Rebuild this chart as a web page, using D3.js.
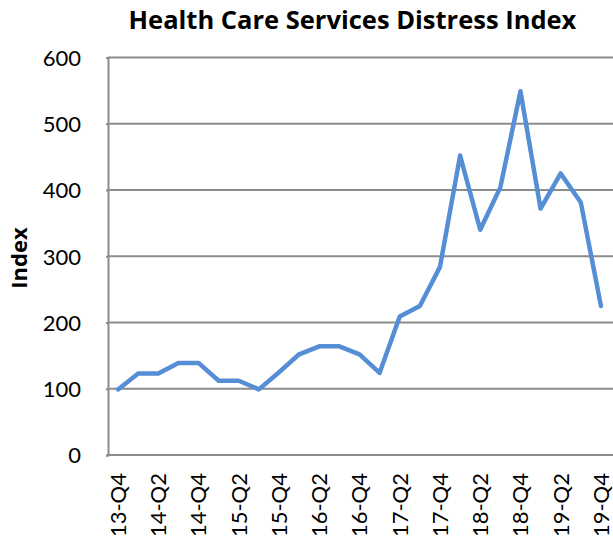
<!DOCTYPE html>
<html>
<head>
<meta charset="utf-8">
<script src="https://cdn.jsdelivr.net/npm/d3@7"></script>
<style>
  html, body { margin: 0; padding: 0; background: #fff; }
  svg { display: block; }
</style>
</head>
<body>
<svg id="chart" width="613" height="541"></svg>
<script>
const quarters = ["13-Q4","14-Q1","14-Q2","14-Q3","14-Q4","15-Q1","15-Q2","15-Q3","15-Q4",
  "16-Q1","16-Q2","16-Q3","16-Q4","17-Q1","17-Q2","17-Q3","17-Q4",
  "18-Q1","18-Q2","18-Q3","18-Q4","19-Q1","19-Q2","19-Q3","19-Q4"];
const indexValues = [99,123,123,139,139,112,112,99,125,152,164,164,152,124,209,225,284,
  452,340,404,549,372,425,381,225];
const tickLabels = ["13-Q4","14-Q2","14-Q4","15-Q2","15-Q4","16-Q2","16-Q4","17-Q2",
  "17-Q4","18-Q2","18-Q4","19-Q2","19-Q4"];
const yTicks = [0,100,200,300,400,500,600];

const svg = d3.select("#chart");
const mLeft = 108, mRight = 611, mTop = 57.5, mBottom = 455;

const x = d3.scaleBand().domain(quarters).range([mLeft, mRight]);
const y = d3.scaleLinear().domain([0, 600]).range([mBottom, mTop]);

// gridlines
svg.append("g").selectAll("line").data(yTicks.filter(d => d > 0)).join("line")
  .attr("x1", mLeft).attr("x2", 613)
  .attr("y1", d => y(d)).attr("y2", d => y(d))
  .attr("stroke", "#8c8c8c").attr("stroke-width", 2);

// y axis
const yAxis = svg.append("g").attr("transform", `translate(${mLeft},0)`)
  .call(d3.axisLeft(y).tickValues(yTicks).tickSize(2).tickPadding(25));
yAxis.select(".domain").attr("stroke", "#8c8c8c").attr("stroke-width", 2);
yAxis.selectAll(".tick line").attr("stroke", "#8c8c8c").attr("stroke-width", 2);
yAxis.selectAll("text").attr("font-family", "Lato, 'Open Sans', sans-serif")
  .attr("font-size", 22).attr("fill", "#000").attr("dy", "0.36em");

// x axis
const xAxis = svg.append("g").attr("transform", `translate(0,${mBottom})`)
  .call(d3.axisBottom(x).tickValues(tickLabels).tickSize(0).tickPadding(0));
xAxis.select(".domain").attr("stroke", "#8c8c8c").attr("stroke-width", 2)
  .attr("d", `M${mLeft},0H613`);
xAxis.selectAll("text")
  .attr("font-family", "Lato, 'Open Sans', sans-serif").attr("font-size", 22).attr("fill", "#000")
  .attr("transform", "rotate(-90)")
  .attr("text-anchor", "end")
  .attr("x", -18).attr("y", 0).attr("dy", "0.36em");

// line
const line = d3.line()
  .x((d, i) => x(quarters[i]) + x.bandwidth() / 2)
  .y(d => y(d));
svg.append("path").datum(indexValues)
  .attr("d", line)
  .attr("fill", "none")
  .attr("stroke", "#558ed5")
  .attr("stroke-width", 4.5)
  .attr("stroke-linejoin", "round")
  .attr("stroke-linecap", "round");

// title
svg.append("text")
  .attr("x", 352.5).attr("y", 29)
  .attr("text-anchor", "middle")
  .attr("font-family", "'Open Sans', Lato, sans-serif")
  .attr("font-weight", "bold").attr("font-size", 25.5)
  .text("Health Care Services Distress Index");

// y label
svg.append("text")
  .attr("transform", "translate(27,258) rotate(-90)")
  .attr("text-anchor", "middle")
  .attr("font-family", "'Open Sans', Lato, sans-serif")
  .attr("font-weight", "bold").attr("font-size", 22)
  .text("Index");
</script>
</body>
</html>
